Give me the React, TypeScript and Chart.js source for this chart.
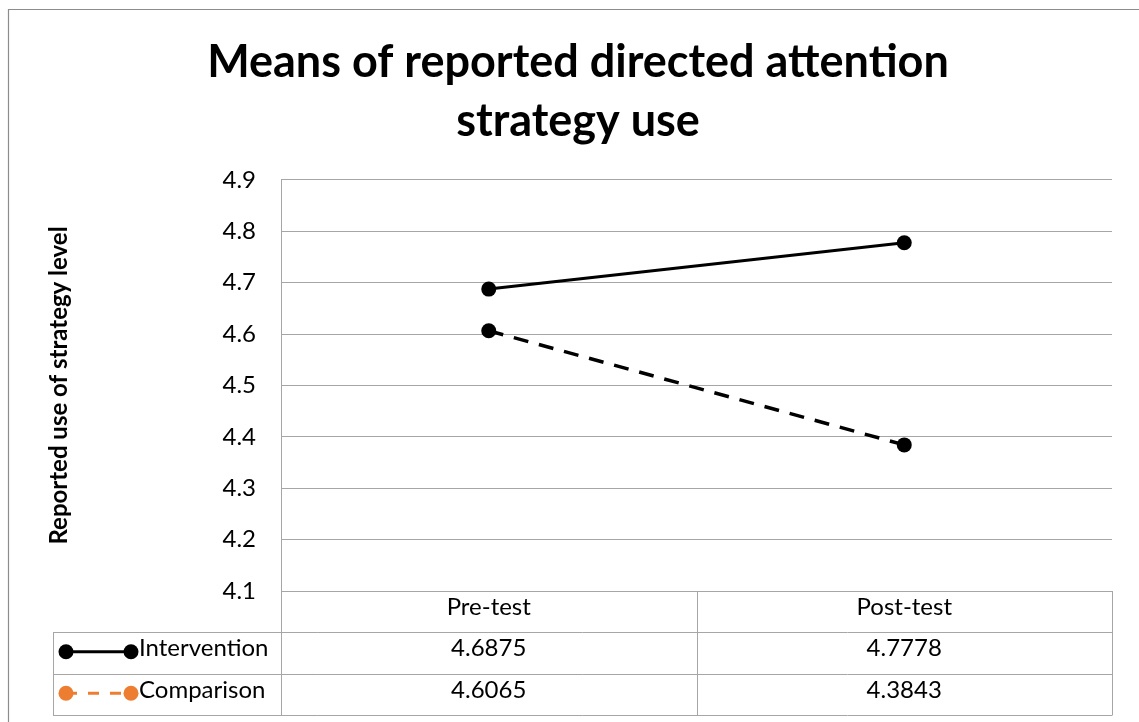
import React, { useEffect, useRef } from "react";
import { Chart, registerables } from "chart.js";

Chart.register(...registerables);

const TITLE_LINES = ["Means of reported directed attention", "strategy use"];
const Y_TITLE = "Reported use of strategy level";
const CATEGORIES = ["Pre-test", "Post-test"];
const SERIES_NAMES = ["Intervention", "Comparison"];
const INTERVENTION = [4.6875, 4.7778];
const COMPARISON = [4.6065, 4.3843];
const Y_MIN = 4.1;
const Y_MAX = 4.9;
const Y_STEP = 0.1;

const FONT = "Lato";
const GRID = "#a6a6a6";
const KEY_COLORS = ["#000000", "#ED7D31"];
const KEY_DASH: number[][] = [[], [11, 11]];
const SERIES_VALUES = [INTERVENTION, COMPARISON];

const framePlugin = {
  id: "frame",
  beforeDraw(chart: any) {
    const { ctx, width, height } = chart;
    ctx.save();
    ctx.fillStyle = "#ffffff";
    ctx.fillRect(0, 0, width, height);
    ctx.strokeStyle = "#8c8c8c";
    ctx.lineWidth = 1.2;
    ctx.beginPath();
    ctx.moveTo(8.5, height + 5);
    ctx.lineTo(8.5, 9.5);
    ctx.lineTo(width + 5, 9.5);
    ctx.stroke();
    ctx.restore();
  },
};

const tablePlugin = {
  id: "dataTable",
  afterDraw(chart: any) {
    const { ctx, chartArea } = chart;
    const x = chart.scales.x;
    const left = chartArea.left;
    const right = chartArea.right;
    const top = chartArea.bottom;
    const headerBottom = top + 41;
    const rowH = 41.5;
    const keyLeft = 53;
    const band = (right - left) / CATEGORIES.length;
    const tableBottom = headerBottom + rowH * SERIES_NAMES.length;

    ctx.save();
    ctx.strokeStyle = GRID;
    ctx.lineWidth = 1;
    ctx.beginPath();
    for (let i = 0; i <= CATEGORIES.length; i++) {
      const vx = Math.round(left + i * band) + 0.5;
      ctx.moveTo(vx, top);
      ctx.lineTo(vx, tableBottom);
    }
    ctx.moveTo(keyLeft + 0.5, headerBottom);
    ctx.lineTo(keyLeft + 0.5, tableBottom);
    for (let r = 0; r <= SERIES_NAMES.length; r++) {
      const hy = Math.round(headerBottom + r * rowH) + 0.5;
      ctx.moveTo(keyLeft, hy);
      ctx.lineTo(Math.round(right) + 0.5, hy);
    }
    ctx.stroke();

    ctx.fillStyle = "#000";
    ctx.font = `24px ${FONT}`;
    ctx.textAlign = "center";
    ctx.textBaseline = "middle";
    CATEGORIES.forEach((c, i) => {
      const cx = x.getPixelForValue(i);
      ctx.fillText(c, cx, (top + headerBottom) / 2 - 4);
    });

    SERIES_NAMES.forEach((name, r) => {
      const cy = headerBottom + r * rowH + rowH / 2 - 1;
      const ty = cy - 3;
      SERIES_VALUES[r].forEach((v, i) => {
        ctx.textAlign = "center";
        ctx.fillStyle = "#000";
        ctx.fillText(String(v), x.getPixelForValue(i), ty);
      });
      const k0 = 66;
      const k1 = 131;
      ctx.strokeStyle = KEY_COLORS[r];
      ctx.fillStyle = KEY_COLORS[r];
      ctx.lineWidth = 3;
      ctx.setLineDash(KEY_DASH[r]);
      ctx.beginPath();
      ctx.moveTo(k0, cy);
      ctx.lineTo(k1, cy);
      ctx.stroke();
      ctx.setLineDash([]);
      [k0, k1].forEach((kx) => {
        ctx.beginPath();
        ctx.arc(kx, cy, 7.5, 0, Math.PI * 2);
        ctx.fill();
      });
      ctx.fillStyle = "#000";
      ctx.textAlign = "left";
      ctx.fillText(name, 139, ty);
    });
    ctx.restore();
  },
};

export default function App() {
  const ref = useRef<HTMLCanvasElement | null>(null);

  useEffect(() => {
    if (!ref.current) return;
    const chart = new Chart(ref.current, {
      type: "line",
      data: {
        labels: CATEGORIES,
        datasets: [
          {
            label: SERIES_NAMES[0],
            data: INTERVENTION,
            borderColor: "#000",
            backgroundColor: "#000",
            borderWidth: 3,
            pointRadius: 7.5,
            pointBackgroundColor: "#000",
            pointBorderColor: "#000",
            pointBorderWidth: 0,
          },
          {
            label: SERIES_NAMES[1],
            data: COMPARISON,
            borderColor: "#000",
            backgroundColor: "#000",
            borderWidth: 3.5,
            borderDash: [15, 11],
            pointRadius: 7.5,
            pointBackgroundColor: "#000",
            pointBorderColor: "#000",
            pointBorderWidth: 0,
          },
        ],
      },
      options: {
        animation: false,
        responsive: true,
        maintainAspectRatio: false,
        layout: { padding: { left: 44, right: 27, top: 0, bottom: 0 } },
        plugins: {
          legend: { display: false },
          tooltip: { enabled: false },
          title: {
            display: true,
            text: TITLE_LINES,
            color: "#000",
            font: { family: FONT, size: 45, weight: "bold", lineHeight: 1.31 },
            padding: { top: 33, bottom: 29 },
          },
        },
        scales: {
          x: {
            type: "category",
            offset: true,
            grid: { display: false },
            border: { display: false },
            ticks: { display: false },
            afterFit: (s: any) => {
              s.height = 131;
            },
          },
          y: {
            min: Y_MIN,
            max: Y_MAX,
            ticks: {
              stepSize: Y_STEP,
              padding: 25,
              color: "#000",
              font: { family: FONT, size: 24 },
              callback: (v: any) => Number(v).toFixed(1),
            },
            grid: { color: GRID, lineWidth: 1, drawTicks: false },
            border: { display: true, color: GRID, width: 1 },
            title: {
              display: true,
              text: Y_TITLE,
              color: "#000",
              font: { family: FONT, size: 24, weight: "bold" },
              padding: { top: 1, bottom: 4 },
            },
            afterFit: (s: any) => {
              s.width = 237;
            },
          },
        },
      },
      plugins: [framePlugin, tablePlugin],
    } as any);
    return () => chart.destroy();
  }, []);

  return (
    <div style={{ position: "absolute", left: 0, top: 0, width: 1139, height: 722 }}>
      <canvas ref={ref} />
    </div>
  );
}
